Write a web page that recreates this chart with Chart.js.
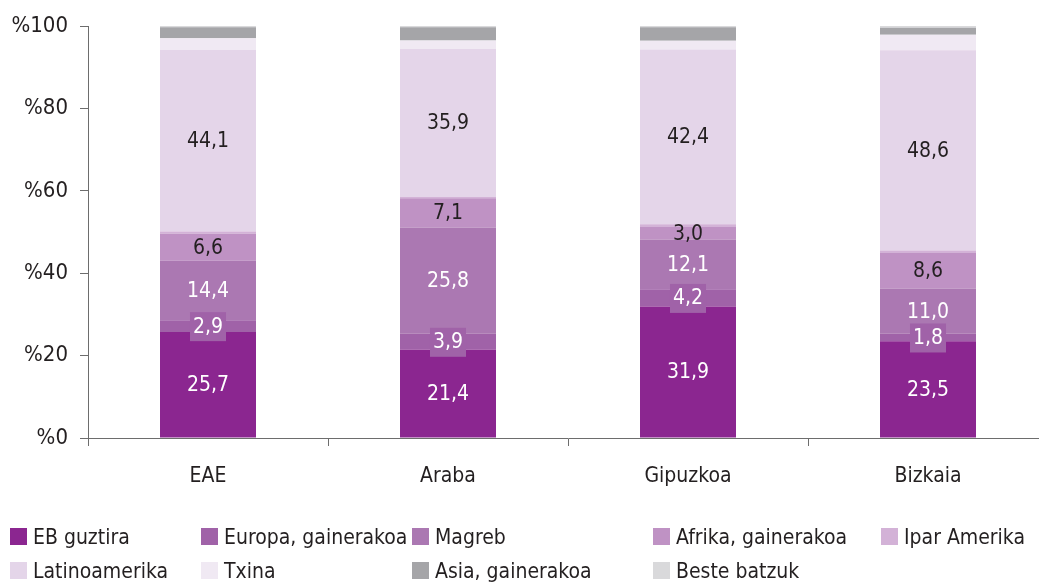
<!DOCTYPE html>
<html>
<head>
<meta charset="utf-8">
<script src="https://cdn.jsdelivr.net/npm/chart.js@4"></script>
<style>
  html, body { margin: 0; padding: 0; background: #fff; overflow: hidden; width: 1039px; height: 584px; }
  #wrap { position: absolute; left: 0; top: 0; width: 1060px; height: 500px; }
  #legend { position: absolute; left: 0; top: 0; width: 1039px; height: 584px; }
  .item { position: absolute; font-size: 21px; line-height: 24px; color: #231f20; white-space: nowrap;
          font-family: "Liberation Sans Narrow", "DejaVu Sans Condensed", sans-serif; }
  .item i { position: absolute; left: 0; top: 3px; width: 17px; height: 17px; }
  .item span { padding-left: 23px; }
</style>
</head>
<body>
<div id="wrap"><canvas id="chart"></canvas></div>
<div id="legend"></div>
<script>
// Data
const regions = ['EAE', 'Araba', 'Gipuzkoa', 'Bizkaia'];
const ebGuztira = [25.7, 21.4, 31.9, 23.5];
const europaGainerakoa = [2.9, 3.9, 4.2, 1.8];
const magreb = [14.4, 25.8, 12.1, 11.0];
const afrikaGainerakoa = [6.6, 7.1, 3.0, 8.6];
const iparAmerika = [0.5, 0.3, 0.7, 0.6];
const latinoamerika = [44.1, 35.9, 42.4, 48.6];
const txina = [2.8, 2.1, 2.1, 3.8];
const asiaGainerakoa = [2.7, 3.2, 3.3, 1.7];
const besteBatzuk = [0.3, 0.3, 0.3, 0.4];
const yTicks = [0, 20, 40, 60, 80, 100];

const FONT = '"Liberation Sans Narrow", "DejaVu Sans Condensed", sans-serif';
const TEXT = '#231f20';

// Series: label, values, colour, value label colour (null = no label), boxed label
const series = [
  { label: 'EB guztira', data: ebGuztira, color: '#8b2690', text: '#ffffff' },
  { label: 'Europa, gainerakoa', data: europaGainerakoa, color: '#a062a8', text: '#ffffff', box: true },
  { label: 'Magreb', data: magreb, color: '#ab78b2', text: '#ffffff' },
  { label: 'Afrika, gainerakoa', data: afrikaGainerakoa, color: '#bf92c4', text: TEXT },
  { label: 'Ipar Amerika', data: iparAmerika, color: '#d3b2d7', text: null },
  { label: 'Latinoamerika', data: latinoamerika, color: '#e4d5e9', text: TEXT },
  { label: 'Txina', data: txina, color: '#f0e9f3', text: null },
  { label: 'Asia, gainerakoa', data: asiaGainerakoa, color: '#a5a5a8', text: null },
  { label: 'Beste batzuk', data: besteBatzuk, color: '#d9d9db', text: null }
];

// Draw value labels in the middle of each segment
const valueLabels = {
  id: 'valueLabels',
  afterDatasetsDraw(chart) {
    const ctx = chart.ctx;
    ctx.save();
    ctx.font = '21px ' + FONT;
    ctx.textAlign = 'center';
    ctx.textBaseline = 'middle';
    chart.data.datasets.forEach((ds, i) => {
      const s = series[i];
      if (!s.text) return;
      chart.getDatasetMeta(i).data.forEach((bar, j) => {
        const txt = ds.data[j].toFixed(1).replace('.', ',');
        const y = (bar.y + bar.base) / 2 + 1;
        if (s.box) {
          const w = ctx.measureText(txt).width + 6;
          ctx.fillStyle = s.color;
          ctx.fillRect(bar.x - w / 2, y - 15, w, 29);
        }
        ctx.fillStyle = s.text;
        ctx.fillText(txt, bar.x, y);
      });
    });
    ctx.restore();
  }
};

function initChart() {
  Chart.defaults.font.family = FONT;
  Chart.defaults.font.size = 21;
  Chart.defaults.color = TEXT;

  const ctx = document.getElementById('chart').getContext('2d');
  new Chart(ctx, {
    type: 'bar',
    data: {
      labels: regions,
      datasets: series.map(s => ({
        label: s.label,
        data: s.data,
        backgroundColor: s.color,
        borderWidth: 0,
        barPercentage: 0.4,
        categoryPercentage: 1
      }))
    },
    options: {
      responsive: true,
      maintainAspectRatio: false,
      animation: false,
      layout: { padding: { top: 26, right: 12, bottom: 0, left: 0 } },
      plugins: {
        legend: { display: false },
        tooltip: { enabled: false }
      },
      scales: {
        x: {
          stacked: true,
          grid: { drawOnChartArea: false, tickLength: 8, color: '#6d6d6d', offset: true },
          border: { color: '#6d6d6d' },
          ticks: { padding: 18, font: { size: 21 }, color: TEXT },
          afterFit(scale) { scale.height = 62; }
        },
        y: {
          stacked: true,
          min: 0,
          max: 100,
          grid: { drawOnChartArea: false, tickLength: 8, color: '#6d6d6d' },
          border: { color: '#6d6d6d' },
          afterBuildTicks(scale) { scale.ticks = yTicks.map(v => ({ value: v })); },
          ticks: { padding: 12, font: { size: 22 }, color: TEXT, callback: v => '%' + v },
          afterFit(scale) { scale.width = 88; }
        }
      }
    },
    plugins: [valueLabels]
  });
}

// HTML legend laid out in the reference's columns
function buildLegend() {
  const cols = [10, 201, 412, 653, 881];
  const rows = [525, 559];
  const legend = document.getElementById('legend');
  series.forEach((s, i) => {
    const el = document.createElement('div');
    el.className = 'item';
    el.style.left = cols[i % 5] + 'px';
    el.style.top = rows[Math.floor(i / 5)] + 'px';
    el.innerHTML = '<i style="background:' + s.color + '"></i><span>' + s.label + '</span>';
    legend.appendChild(el);
  });
}

document.addEventListener('DOMContentLoaded', () => {
  initChart();
  buildLegend();
});
</script>
</body>
</html>
